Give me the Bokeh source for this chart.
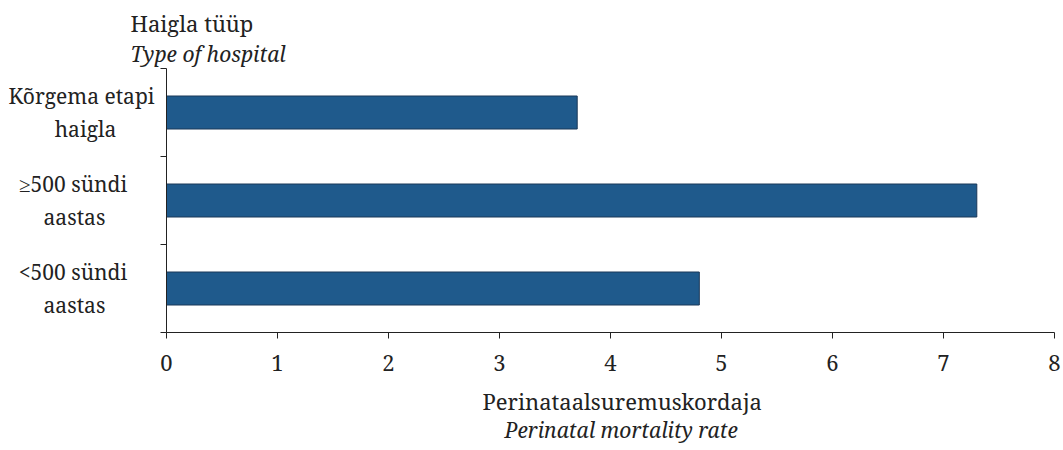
from bokeh.plotting import figure
from bokeh.models import FixedTicker, Range1d, LinearAxis, Title
from bokeh.embed import file_html
from bokeh.resources import INLINE

# ---- data ----
categories = ["Kõrgema etapi\nhaigla", "≥500 sündi\naastas", "<500 sündi\naastas"]
rates = [3.7, 7.3, 4.8]
x_ticks = [0, 1, 2, 3, 4, 5, 6, 7, 8]
y_title = "Haigla tüüp"
y_subtitle = "Type of hospital"
x_title = "Perinataalsuremuskordaja"
x_subtitle = "Perinatal mortality rate"

# ---- layout / style ----
FONT = "Noto Serif"
FS_TICK = "22px"
FS_CAT = "21px"
FS_TITLE = "22px"
FS_SUB = "21px"
TXT = "#222222"
NBSP = "\u00a0"
# trailing no-break spaces per label line, to centre the lines of each label
line_pads = [[0, 7], [5, 9], [5, 9]]

n = len(categories)
centers = [n - i - 0.5 for i in range(n)]
bounds = list(range(n + 1))


def padded(label, pads):
    return "\n".join(line + NBSP * k for line, k in zip(label.split("\n"), pads))


p = figure(width=1063, height=450, output_backend="svg", toolbar_location=None,
           x_range=Range1d(0, 8), y_range=Range1d(0, n), y_axis_location=None,
           min_border_left=166, min_border_right=9, min_border_top=68, min_border_bottom=118)
p.outline_line_color = None
p.xgrid.grid_line_color = None
p.ygrid.grid_line_color = None

p.hbar(y=centers, right=rates, left=0, height=0.375,
       fill_color="#1F5A8C", line_color="#1B3858", line_width=1)

# x axis
xa = p.xaxis[0]
xa.ticker = FixedTicker(ticks=x_ticks)
xa.minor_tick_line_color = None
xa.major_tick_in = 0
xa.major_tick_out = 6
xa.axis_line_color = TXT
xa.major_tick_line_color = TXT
xa.major_label_text_font = FONT
xa.major_label_text_font_size = FS_TICK
xa.major_label_text_color = TXT
xa.major_label_standoff = 16

# y axis: labels at category centres, boundary ticks as minor ticks
ya = LinearAxis(ticker=FixedTicker(ticks=centers, minor_ticks=bounds),
                major_label_overrides={c: padded(lab, pd) for c, lab, pd in zip(centers, categories, line_pads)},
                major_tick_in=0, major_tick_out=0, minor_tick_in=0, minor_tick_out=6,
                axis_line_color=TXT, minor_tick_line_color=TXT, major_tick_line_color=None,
                major_label_text_font=FONT, major_label_text_font_size=FS_CAT,
                major_label_text_color=TXT, major_label_standoff=6,
                major_label_text_line_height=1.15)
p.add_layout(ya, "left")

# titles above the plot (first added sits closest to the frame)
p.add_layout(Title(text=y_subtitle, text_font=FONT, text_font_size=FS_SUB, text_font_style="italic",
                   text_color=TXT, align="left", offset=-36, standoff=2), "above")
p.add_layout(Title(text=y_title, text_font=FONT, text_font_size=FS_TITLE, text_font_style="normal",
                   text_color=TXT, align="left", offset=-36, standoff=-2), "above")

# titles below the x axis (first added sits closest to the axis)
p.add_layout(Title(text=x_title, text_font=FONT, text_font_size=FS_TITLE, text_font_style="normal",
                   text_color=TXT, align="left", offset=316, standoff=20), "below")
p.add_layout(Title(text=x_subtitle, text_font=FONT, text_font_size=FS_SUB, text_font_style="italic",
                   text_color=TXT, align="left", offset=338, standoff=-36), "below")

open("out.html", "w").write(file_html(p, INLINE))
